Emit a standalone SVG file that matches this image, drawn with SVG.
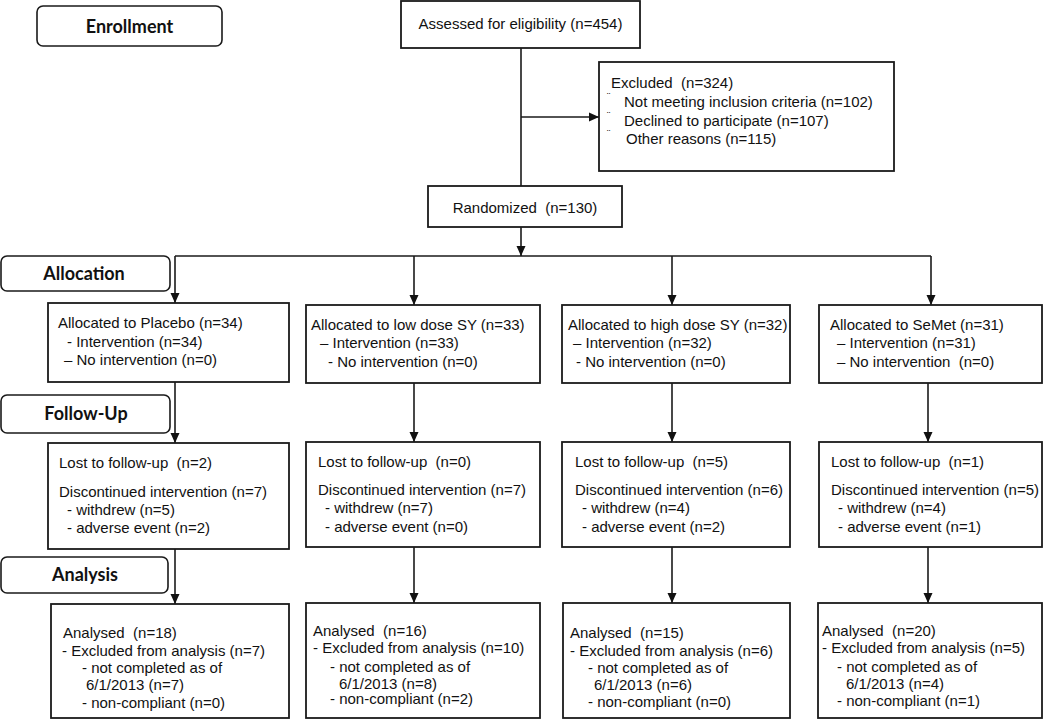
<svg xmlns="http://www.w3.org/2000/svg" width="1050" height="722" viewBox="0 0 1050 722">
<defs>
<marker id="arr" markerUnits="userSpaceOnUse" markerWidth="10" markerHeight="10" refX="10" refY="5" orient="auto">
<path d="M0,0.5 L10,5 L0,9.5 z" fill="#111"/>
</marker>
<style>
.box{fill:#fff;stroke:#1a1a1a;stroke-width:1.8}
.hdr{fill:#fff;stroke:#1a1a1a;stroke-width:1.6}
.t{font-family:"Liberation Sans",Arial,sans-serif;font-size:15px;fill:#111;white-space:pre}
.h{font-family:Lato,"Liberation Sans",sans-serif;font-size:18px;font-weight:bold;fill:#111;text-anchor:middle}
.c{fill:none;stroke:#1a1a1a;stroke-width:1.6}
.b{font-size:10px}
</style>
</defs>
<rect width="1050" height="722" fill="#fff"/>

<g id="connectors">
<line class="c" x1="521" y1="48" x2="521" y2="186"/>
<line class="c" x1="521" y1="117" x2="599" y2="117" marker-end="url(#arr)"/>
<line class="c" x1="521" y1="227" x2="521" y2="256" marker-end="url(#arr)"/>
<line class="c" x1="175" y1="256" x2="931" y2="256"/>
<line class="c" x1="175" y1="256" x2="175" y2="303" marker-end="url(#arr)"/>
<line class="c" x1="414" y1="256" x2="414" y2="305" marker-end="url(#arr)"/>
<line class="c" x1="672" y1="256" x2="672" y2="305" marker-end="url(#arr)"/>
<line class="c" x1="931" y1="256" x2="931" y2="305" marker-end="url(#arr)"/>
<line class="c" x1="175" y1="382" x2="175" y2="443" marker-end="url(#arr)"/>
<line class="c" x1="414" y1="383" x2="414" y2="442" marker-end="url(#arr)"/>
<line class="c" x1="672" y1="383" x2="672" y2="442" marker-end="url(#arr)"/>
<line class="c" x1="928" y1="383" x2="928" y2="442" marker-end="url(#arr)"/>
<line class="c" x1="175" y1="549" x2="175" y2="604" marker-end="url(#arr)"/>
<line class="c" x1="414" y1="547" x2="414" y2="603" marker-end="url(#arr)"/>
<line class="c" x1="672" y1="547" x2="672" y2="603" marker-end="url(#arr)"/>
<line class="c" x1="928" y1="547" x2="928" y2="603" marker-end="url(#arr)"/>
</g>

<g id="enrollment">
<rect class="hdr" x="37" y="6" width="185" height="40" rx="6"/>
<text class="h" x="129.5" y="33">Enrollment</text>
</g>
<g id="allocation-label">
<rect class="hdr" x="1" y="256" width="169" height="35" rx="6"/>
<text class="h" x="84" y="280">Allocation</text>
</g>
<g id="followup-label">
<rect class="hdr" x="1" y="395" width="169" height="38" rx="6"/>
<text class="h" x="86" y="420">Follow-Up</text>
</g>
<g id="analysis-label">
<rect class="hdr" x="1" y="557" width="167" height="36" rx="6"/>
<text class="h" x="85" y="581">Analysis</text>
</g>

<g id="assessed">
<rect class="box" x="401" y="1" width="239" height="47"/>
<text class="t" x="520.5" y="29" text-anchor="middle">Assessed for eligibility (n=454)</text>
</g>
<g id="excluded">
<rect class="box" x="599" y="62" width="295" height="109"/>
<text class="t" x="611" y="88">Excluded  (n=324)</text>
<text class="t b" x="607" y="101">¨</text>
<text class="t" x="624" y="107">Not meeting inclusion criteria (n=102)</text>
<text class="t b" x="607" y="120">¨</text>
<text class="t" x="624" y="126">Declined to participate (n=107)</text>
<text class="t b" x="607" y="138">¨</text>
<text class="t" x="626" y="144">Other reasons (n=115)</text>
</g>
<g id="randomized">
<rect class="box" x="428" y="186" width="194" height="41"/>
<text class="t" x="525" y="213" text-anchor="middle">Randomized  (n=130)</text>
</g>

<g id="alloc-placebo">
<rect class="box" x="48" y="303" width="241" height="79"/>
<text class="t" x="58" y="328">Allocated to Placebo (n=34)</text>
<text class="t" x="67" y="347">- Intervention (n=34)</text>
<text class="t" x="64" y="365">– No intervention (n=0)</text>
</g>
<g id="alloc-low">
<rect class="box" x="306" y="305" width="234" height="78"/>
<text class="t" x="311" y="330">Allocated to low dose SY (n=33)</text>
<text class="t" x="320" y="348">– Intervention (n=33)</text>
<text class="t" x="328" y="367">- No intervention (n=0)</text>
</g>
<g id="alloc-high">
<rect class="box" x="562" y="305" width="228" height="78"/>
<text class="t" x="568" y="330">Allocated to high dose SY (n=32)</text>
<text class="t" x="573" y="348">– Intervention (n=32)</text>
<text class="t" x="576" y="367">- No intervention (n=0)</text>
</g>
<g id="alloc-semet">
<rect class="box" x="819" y="305" width="223" height="78"/>
<text class="t" x="830" y="330">Allocated to SeMet (n=31)</text>
<text class="t" x="837" y="348">– Intervention (n=31)</text>
<text class="t" x="837" y="367">– No intervention  (n=0)</text>
</g>

<g id="follow-placebo">
<rect class="box" x="48" y="443" width="241" height="106"/>
<text class="t" x="59" y="468">Lost to follow-up  (n=2)</text>
<text class="t" x="59" y="497">Discontinued intervention (n=7)</text>
<text class="t" x="67" y="515">- withdrew (n=5)</text>
<text class="t" x="67" y="533">- adverse event (n=2)</text>
</g>
<g id="follow-low">
<rect class="box" x="306" y="442" width="234" height="105"/>
<text class="t" x="318" y="467">Lost to follow-up  (n=0)</text>
<text class="t" x="318" y="495">Discontinued intervention (n=7)</text>
<text class="t" x="325" y="513">- withdrew (n=7)</text>
<text class="t" x="325" y="532">- adverse event (n=0)</text>
</g>
<g id="follow-high">
<rect class="box" x="562" y="442" width="228" height="105"/>
<text class="t" x="575" y="467">Lost to follow-up  (n=5)</text>
<text class="t" x="575" y="495">Discontinued intervention (n=6)</text>
<text class="t" x="582" y="513">- withdrew (n=4)</text>
<text class="t" x="582" y="532">- adverse event (n=2)</text>
</g>
<g id="follow-semet">
<rect class="box" x="819" y="442" width="223" height="105"/>
<text class="t" x="831" y="467">Lost to follow-up  (n=1)</text>
<text class="t" x="831" y="495">Discontinued intervention (n=5)</text>
<text class="t" x="838" y="513">- withdrew (n=4)</text>
<text class="t" x="838" y="532">- adverse event (n=1)</text>
</g>

<g id="analysis-placebo">
<rect class="box" x="51" y="604" width="238" height="114"/>
<text class="t" x="63" y="638">Analysed  (n=18)</text>
<text class="t" x="62" y="656">- Excluded from analysis (n=7)</text>
<text class="t" x="82" y="673">- not completed as of</text>
<text class="t" x="86" y="690">6/1/2013 (n=7)</text>
<text class="t" x="82" y="708">- non-compliant (n=0)</text>
</g>
<g id="analysis-low">
<rect class="box" x="306" y="603" width="234" height="115"/>
<text class="t" x="313" y="636">Analysed  (n=16)</text>
<text class="t" x="313" y="653">- Excluded from analysis (n=10)</text>
<text class="t" x="330" y="672">- not completed as of</text>
<text class="t" x="339" y="689">6/1/2013 (n=8)</text>
<text class="t" x="330" y="704">- non-compliant (n=2)</text>
</g>
<g id="analysis-high">
<rect class="box" x="563" y="603" width="227" height="115"/>
<text class="t" x="570" y="638">Analysed  (n=15)</text>
<text class="t" x="570" y="656">- Excluded from analysis (n=6)</text>
<text class="t" x="588" y="673">- not completed as of</text>
<text class="t" x="594" y="690">6/1/2013 (n=6)</text>
<text class="t" x="588" y="707">- non-compliant (n=0)</text>
</g>
<g id="analysis-semet">
<rect class="box" x="818" y="603" width="224" height="115"/>
<text class="t" x="822" y="636">Analysed  (n=20)</text>
<text class="t" x="822" y="653">- Excluded from analysis (n=5)</text>
<text class="t" x="837" y="672">- not completed as of</text>
<text class="t" x="846" y="689">6/1/2013 (n=4)</text>
<text class="t" x="837" y="706">- non-compliant (n=1)</text>
</g>
</svg>
